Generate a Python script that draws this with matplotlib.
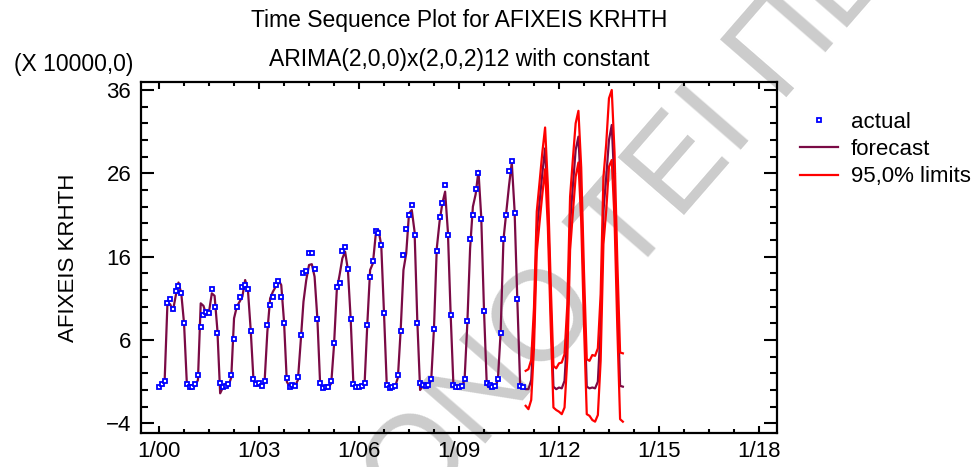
import numpy as np
import matplotlib
matplotlib.use("Agg")
from matplotlib import pyplot as plt
from matplotlib.ticker import FixedLocator, MultipleLocator

plt.rcParams['font.family'] = ['Liberation Sans', 'DejaVu Sans']

# monthly arrivals (x 10000), Jan 2000 .. Dec 2010
actual_by_year = [
    [0.4, 0.7, 1.1, 10.5, 10.9, 9.7, 11.9, 12.5, 11.7, 8.0, 0.7, 0.4],
    [0.4, 0.7, 1.8, 7.6, 9.0, 9.4, 9.2, 12.1, 10.0, 6.9, 0.9, 0.4],
    [0.5, 0.7, 1.8, 6.1, 10.0, 11.2, 12.4, 12.6, 12.1, 7.1, 1.3, 0.7],
    [0.8, 0.5, 1.1, 7.8, 10.2, 11.2, 12.6, 13.1, 11.2, 8.1, 1.4, 0.4],
    [0.6, 0.5, 1.6, 6.6, 14.1, 14.3, 16.5, 16.5, 14.5, 8.5, 0.9, 0.3],
    [0.4, 0.4, 1.1, 5.6, 12.4, 12.9, 16.7, 17.2, 14.5, 8.5, 0.7, 0.4],
    [0.4, 0.5, 0.9, 7.8, 13.6, 15.5, 19.1, 18.9, 17.4, 9.3, 0.6, 0.3],
    [0.4, 0.5, 1.8, 7.1, 16.2, 19.3, 21.0, 22.2, 18.6, 8.0, 0.9, 0.6],
    [0.5, 0.6, 1.3, 7.3, 16.7, 20.8, 22.5, 24.6, 18.6, 9.0, 0.6, 0.4],
    [0.4, 0.5, 1.3, 8.3, 18.1, 21.0, 24.1, 26.1, 20.5, 9.5, 0.9, 0.6],
    [0.4, 0.5, 1.3, 6.8, 18.1, 21.0, 26.3, 27.5, 21.3, 10.9, 0.5, 0.4],
]

# one-step-ahead fitted values for the same months
fitted_by_year = [
    [0.3, 0.6, 1.0, 10.2, 10.3, 9.5, 11.3, 12.9, 11.6, 8.0, 0.8, 0.3],
    [0.3, 0.5, 1.2, 10.4, 10.1, 9.0, 9.4, 11.6, 11.3, 7.2, -0.4, 0.3],
    [0.3, 0.5, 1.5, 8.6, 10.0, 10.6, 11.2, 13.2, 12.0, 7.2, 1.2, 0.5],
    [0.6, 0.3, 1.0, 7.0, 11.0, 11.8, 12.4, 13.2, 12.6, 8.2, 1.0, 0.4],
    [0.4, 0.5, 1.2, 5.8, 10.6, 13.2, 15.0, 15.1, 13.6, 8.6, 0.7, 0.3],
    [0.5, 0.3, 0.8, 5.4, 12.0, 13.8, 15.8, 16.6, 14.4, 8.5, 0.5, 0.4],
    [0.3, 0.4, 0.7, 8.0, 14.4, 15.2, 18.6, 19.2, 17.4, 9.2, 0.5, 0.3],
    [0.4, 0.4, 1.5, 7.2, 14.4, 16.4, 21.2, 21.6, 19.0, 8.2, 0.0, 0.5],
    [0.4, 0.5, 1.2, 7.5, 17.0, 20.2, 22.4, 23.8, 19.0, 9.0, 0.5, 0.3],
    [0.4, 0.4, 1.2, 8.0, 17.0, 22.0, 23.5, 26.3, 20.8, 9.6, 0.6, 0.3],
    [0.3, 0.4, 1.2, 7.0, 18.0, 21.2, 24.5, 27.3, 21.6, 10.8, 0.8, 0.3],
]

# forecasts Jan 2011 .. Dec 2013 with 95% limits
forecast_by_year = [
    [0.1, 0.1, 1.2, 7.5, 19.0, 22.5, 26.0, 29.0, 22.0, 10.5, 0.4, 0.1],
    [0.3, 0.2, 1.1, 7.0, 20.0, 24.5, 28.8, 30.4, 23.5, 11.0, 0.4, 0.2],
    [0.3, 0.2, 1.0, 7.5, 21.5, 25.5, 30.0, 31.8, 24.5, 11.5, 0.5, 0.4],
]
upper_by_year = [
    [2.3, 2.5, 3.6, 9.9, 21.4, 24.9, 28.5, 31.5, 24.5, 13.0, 2.9, 2.6],
    [3.2, 3.3, 4.3, 10.2, 23.2, 27.7, 32.0, 33.5, 26.7, 14.2, 3.7, 3.5],
    [4.2, 4.1, 5.0, 11.5, 25.5, 29.5, 35.0, 36.0, 28.5, 15.5, 4.5, 4.4],
]
lower_by_year = [
    [-1.9, -2.3, -1.2, 5.1, 16.6, 20.1, 23.5, 26.5, 19.5, 8.0, -2.1, -2.4],
    [-2.6, -2.9, -2.1, 3.8, 16.8, 21.3, 25.6, 27.3, 20.3, 7.8, -2.9, -3.1],
    [-3.6, -3.8, -3.0, 3.5, 17.5, 21.5, 26.8, 27.6, 20.5, 7.5, -3.5, -3.8],
]

x_tick_labels = ['1/00', '1/03', '1/06', '1/09', '1/12', '1/15', '1/18']
y_ticks = [-4, 6, 16, 26, 36]

actual = np.concatenate(actual_by_year)
fitted = np.concatenate(fitted_by_year)
fcast = np.concatenate(forecast_by_year)
upper = np.concatenate(upper_by_year)
lower = np.concatenate(lower_by_year)

t_obs = np.arange(len(actual))
t_fc = np.arange(len(actual), len(actual) + len(fcast))
t_line = np.concatenate([t_obs, t_fc])
line_vals = np.concatenate([fitted, fcast])

fs = 16

fig = plt.figure(figsize=(9.75, 4.67), dpi=100)

# licence stamp across the page, behind the plot
fig.text(344 / 975, 1 - 606 / 467, 'ΜΟΝΟ ΤΕΙ ΠΕΙΡΑΙΑ', fontsize=92, color='#cccccc',
         rotation=49, rotation_mode='anchor', ha='left', va='baseline', zorder=-5)

ax = fig.add_axes([141 / 975, 1 - 433 / 467, 636 / 975, 351 / 467])
ax.patch.set_visible(False)

ax.plot(t_line, line_vals, color='#7a0a45', lw=1.6, zorder=2, label='forecast')
ax.plot(t_fc, upper, color='#ff0000', lw=1.6, zorder=3, label='95,0% limits')
ax.plot(t_fc, lower, color='#ff0000', lw=1.6, zorder=3)
ax.plot(t_obs, actual, ls='none', marker='s', ms=2.9, mfc='white', mec='#0000ff',
        mew=1.3, zorder=4, label='actual')

ax.set_xlim(-6.5, 222.5)
ax.set_ylim(-5.16, 36.96)

ax.xaxis.set_major_locator(FixedLocator(np.arange(0, 217, 36)))
ax.xaxis.set_minor_locator(MultipleLocator(9))
ax.set_xticklabels(x_tick_labels)
ax.yaxis.set_major_locator(FixedLocator(y_ticks))
ax.yaxis.set_minor_locator(MultipleLocator(2))

ax.tick_params(axis='both', which='both', direction='in', top=True, right=True,
               width=1.5, labelsize=fs, colors='black')
ax.tick_params(axis='y', which='major', length=9.5, pad=7)
ax.tick_params(axis='y', which='minor', length=5)
ax.tick_params(axis='x', which='major', length=5, pad=6)
ax.tick_params(axis='x', which='minor', length=3)
for sp in ax.spines.values():
    sp.set_linewidth(1.6)

ax.set_ylabel('AFIXEIS KRHTH', fontsize=fs)
ax.yaxis.set_label_coords((79 - 141) / 636, 0.5)

fig.text(459 / 975, 1 - 21 / 467, 'Time Sequence Plot for AFIXEIS KRHTH',
         ha='center', va='center', fontsize=16.5)
fig.text(459 / 975, 1 - 59 / 467, 'ARIMA(2,0,0)x(2,0,2)12 with constant',
         ha='center', va='center', fontsize=16.5)
fig.text(14 / 975, 1 - 64 / 467, '(X 10000,0)', ha='left', va='center', fontsize=16.5)

handles, labels = ax.get_legend_handles_labels()
order = [2, 0, 1]
fig.legend([handles[i] for i in order], [labels[i] for i in order],
           loc='upper left', bbox_to_anchor=(800 / 975, 1 - 112 / 467),
           frameon=False, fontsize=fs, handlelength=1.7, handletextpad=0.6,
           labelspacing=0.28, borderpad=0, borderaxespad=0)

fig.savefig('out.png', dpi=100)
